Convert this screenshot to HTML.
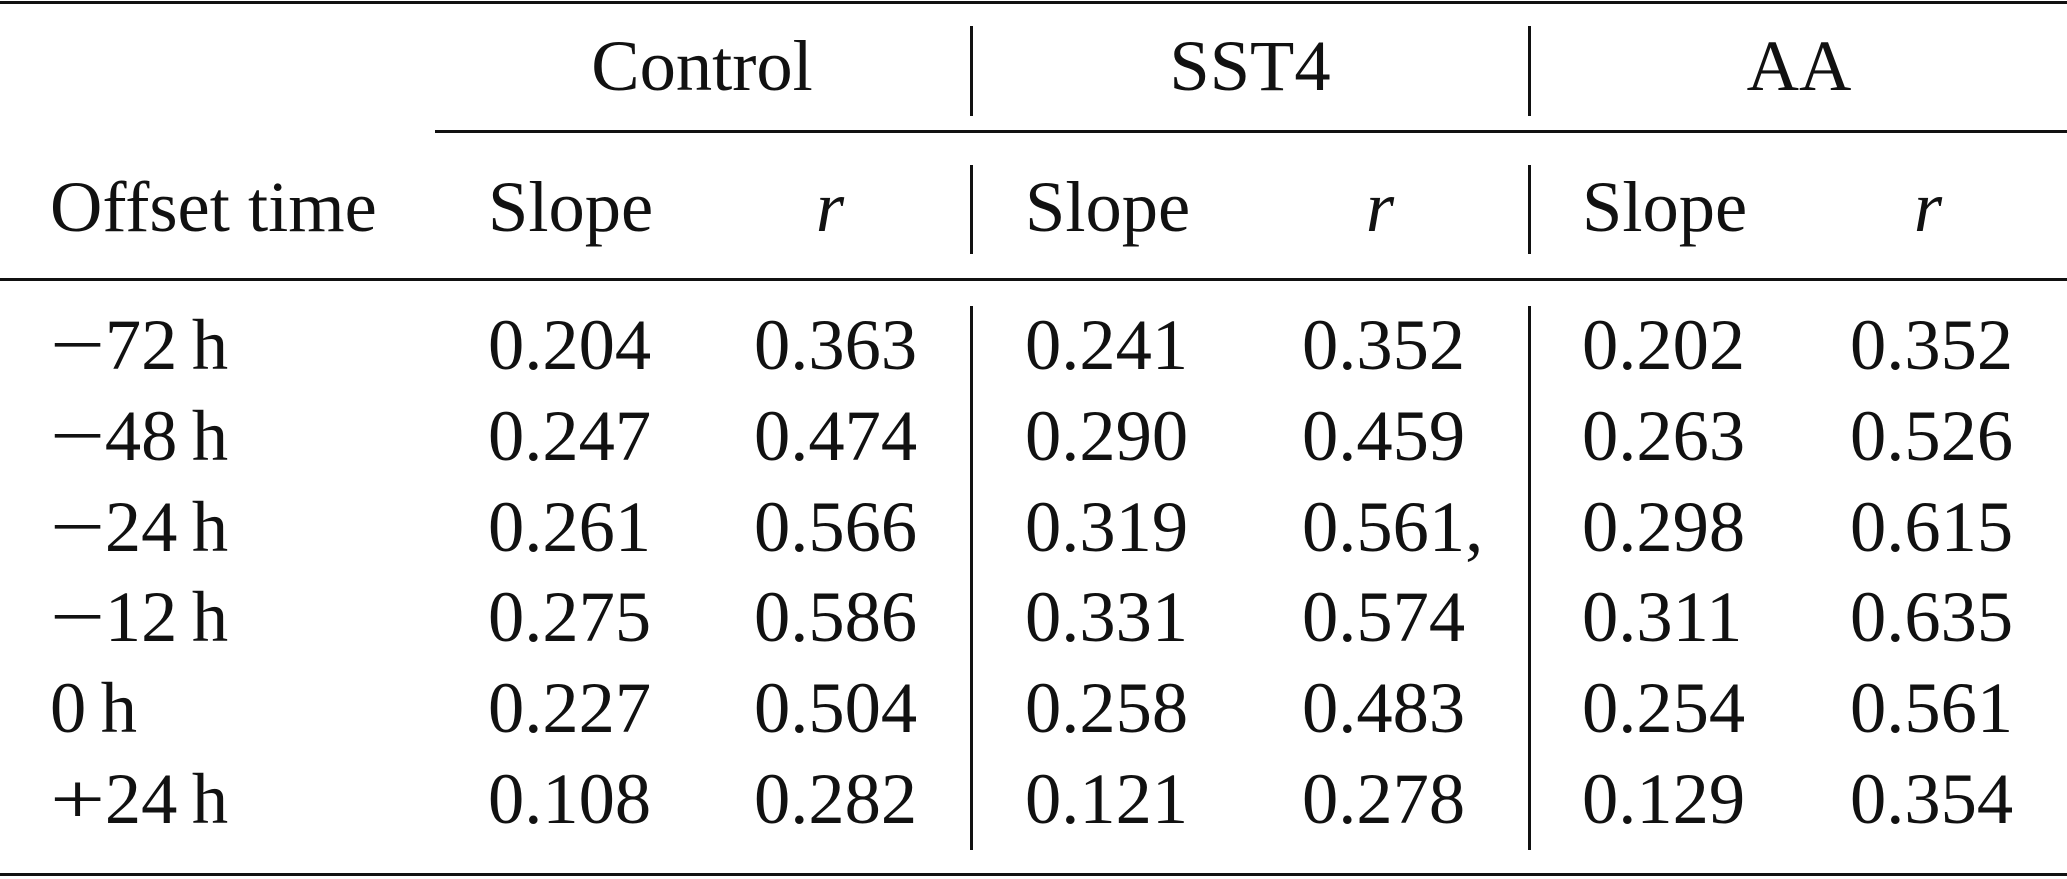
<!DOCTYPE html>
<html><head><meta charset="utf-8">
<style>
html,body{margin:0;padding:0;background:#fff;}
#tbl{position:relative;width:2067px;height:879px;overflow:hidden;font-family:"Liberation Serif",serif;font-size:72.5px;color:#111;}
.t{position:absolute;white-space:nowrap;line-height:1;transform:translateY(-50%);}
.c{transform:translate(-50%,-50%);}
.hr{position:absolute;background:#111;height:3px;}
.vr{position:absolute;background:#111;width:3px;}
.sg{display:inline-block;transform:scaleX(1.35);transform-origin:left center;margin-right:14px;}
</style></head><body>
<div id="tbl">
<div class="hr" style="left:0;top:1px;width:2067px;"></div>
<div class="hr" style="left:435px;top:130px;width:1632px;"></div>
<div class="hr" style="left:0;top:278px;width:2067px;"></div>
<div class="hr" style="left:0;top:873px;width:2067px;"></div>
</div>
<script>
const offsetSigns=["\u2212","\u2212","\u2212","\u2212","","+"];
const offsetHours=["72","48","24","12","0","24"];
const groups=["Control","SST4","AA"];
const controlSlope=["0.204","0.247","0.261","0.275","0.227","0.108"];
const controlR=["0.363","0.474","0.566","0.586","0.504","0.282"];
const sst4Slope=["0.241","0.290","0.319","0.331","0.258","0.121"];
const sst4R=["0.352","0.459","0.561,","0.574","0.483","0.278"];
const aaSlope=["0.202","0.263","0.298","0.311","0.254","0.129"];
const aaR=["0.352","0.526","0.615","0.635","0.561","0.354"];

const T=document.getElementById('tbl');
function txt(s,x,y,cls,name,italic){
  const d=document.createElement('div');
  d.className='t'+(cls?' '+cls:'');
  d.style.left=x+'px';d.style.top=y+'px';
  if(italic)d.style.fontStyle='italic';
  d.textContent=s;
  
  
  T.appendChild(d);
  return d;
}
function vr(x,y1,y2,name){
  const d=document.createElement('div');
  d.className='vr';
  d.style.left=x+'px';d.style.top=y1+'px';d.style.height=(y2-y1)+'px';
  
  
  T.appendChild(d);
}
const headerY=66, subY=207, row0=345, rowStep=90.8;
const groupCenters=[702,1250,1799];
const slopeX=[488,1025,1582];
const rX=[754,1302,1850];
const rHeadX=[830,1380,1928];
const seps=[970,1528];
groups.forEach((g,i)=>{
  txt(g,groupCenters[i],headerY,'c','group-header-'+g.toLowerCase());
  txt('Slope',slopeX[i],subY,'','slope-header-'+g.toLowerCase());
  txt('r',rHeadX[i],subY,'c','r-header-'+g.toLowerCase(),true);
});
txt('Offset time',50,subY,'','offset-time-header');
seps.forEach((x,i)=>{
  vr(x,26,116,'separator-top-'+i);
  vr(x,165,254,'separator-mid-'+i);
  vr(x,306,850,'separator-body-'+i);
});
const cols=[controlSlope,controlR,sst4Slope,sst4R,aaSlope,aaR];
const colX=[slopeX[0],rX[0],slopeX[1],rX[1],slopeX[2],rX[2]];
const colNames=["control-slope","control-r","sst4-slope","sst4-r","aa-slope","aa-r"];
offsetHours.forEach((h,r)=>{
  const y=row0+r*rowStep;
  const d=txt('',50,y,'','offset-label-'+r);
  if(offsetSigns[r]){
    const s=document.createElement('span');
    s.className='sg';
    s.textContent=offsetSigns[r];
    d.appendChild(s);
  }
  d.appendChild(document.createTextNode(h+'\u2009h'));
  cols.forEach((c,j)=>txt(c[r],colX[j],y,'',colNames[j]+'-'+r));
});
</script>
</body></html>
